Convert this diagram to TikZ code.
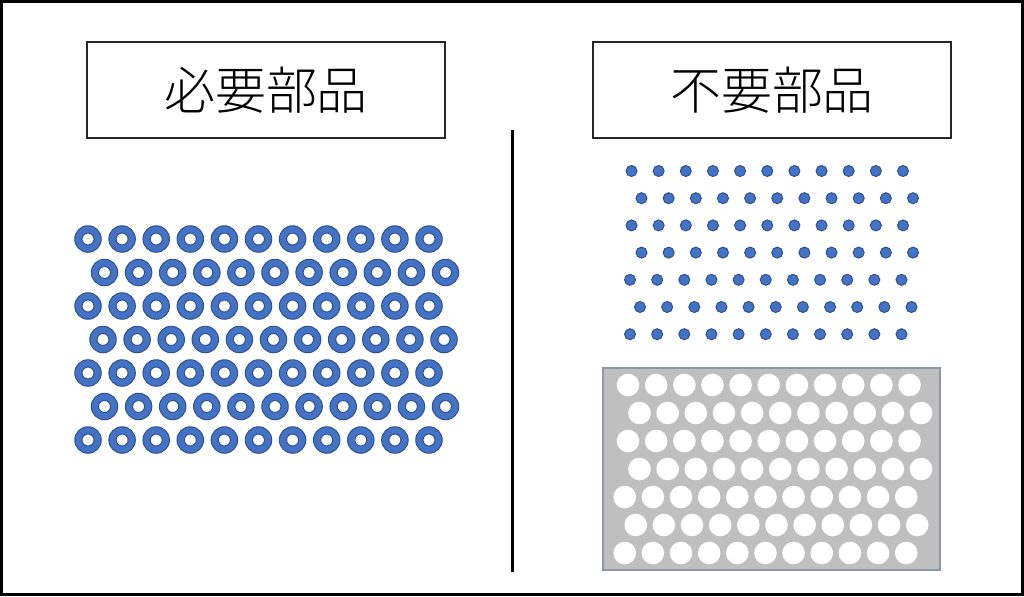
\documentclass[tikz,border=0pt]{standalone}
\usepackage{fontspec}
\newfontfamily\jpfont{Noto Sans CJK JP Light}
\usetikzlibrary{positioning}
\definecolor{partblue}{HTML}{4472C4}
\definecolor{partedge}{HTML}{2F528F}
\definecolor{sheetgray}{HTML}{BFBFBF}
\definecolor{sheetedge}{HTML}{8C97A8}

\begin{document}
\begin{tikzpicture}[x=0.02cm, y=-0.02cm]
    \tikzset{titlebox/.style={draw=black!85, line width=0.03cm, minimum width=7.16cm, minimum height=1.92cm, inner sep=0pt, font=\jpfont\fontsize{29}{34}\selectfont},
        ring/.style={circle, fill=partblue, draw=partedge, line width=0.02cm, minimum size=0.53cm, inner sep=0pt,
            path picture={\draw[fill=white, draw=partedge, line width=0.02cm] (path picture bounding box.center) circle (0.12cm);}},
        dot/.style={circle, fill=partblue, draw=partedge, line width=0.02cm, minimum size=0.22cm, inner sep=0pt},
        sheet/.style={fill=sheetgray, draw=sheetedge, line width=0.03cm, minimum width=6.74cm, minimum height=4.04cm, inner sep=0pt},
        hole/.style={circle, fill=white, minimum size=0.452cm, inner sep=0pt}}
    \useasboundingbox (0,0) rectangle (1024,596);
    \draw[line width=0.06cm] (1.5,1.5) rectangle (1022.5,594.5);
    \node[titlebox] (need) at (266,90) {必要部品};
    \node[titlebox] (waste) at (772,90) {不要部品};
    \coordinate (divtop) at (512,130);
    \coordinate (divbot) at (512,572);
    \draw[line width=0.06cm] (divtop) -- (divbot);
    \foreach \r/\xs in {0/88,1/104.5,2/88,3/103,4/88,5/104.5,6/88}
        \foreach \c in {0,...,10}
            \node[ring] (n-\r-\c) at ({\xs+34.1*\c},{239+33.5*\r}) {};
    \foreach \r/\xs in {0/631.5,1/641.5,2/631.5,3/641.5,4/630,5/640,6/630}
        \foreach \c in {0,...,10}
            \node[dot] (d-\r-\c) at ({\xs+27.15*\c},{171+27.2*\r}) {};
    \node[sheet] (sheet) at (771.5,469) {};
    \foreach \r/\xs in {0/628,1/639.5,2/628,3/639.5,4/624.7,5/635.7,6/624.7}
        \foreach \c in {0,...,10}
            \node[hole] (h-\r-\c) at ({\xs+28.15*\c},{385+28*\r}) {};
\end{tikzpicture}
\end{document}
